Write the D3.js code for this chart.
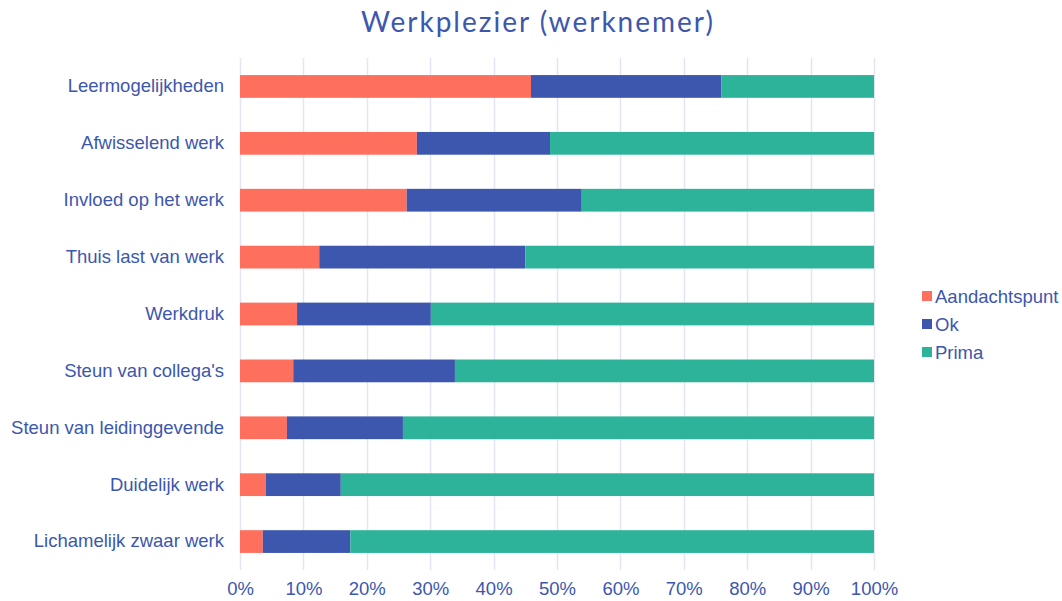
<!DOCTYPE html>
<html>
<head>
<meta charset="utf-8">
<script src="https://cdn.jsdelivr.net/npm/d3@7"></script>
<style>
  body { margin: 0; background: #fff; }
  svg { display: block; }
</style>
</head>
<body>
<svg id="chart" width="1062" height="601"></svg>
<script>
// rows from top to bottom
var categories = ["Leermogelijkheden", "Afwisselend werk", "Invloed op het werk", "Thuis last van werk",
    "Werkdruk", "Steun van collega's", "Steun van leidinggevende", "Duidelijk werk", "Lichamelijk zwaar werk"];
var seriesNames = ["Aandachtspunt", "Ok", "Prima"];
var aandachtspunt = [45.9, 27.9, 26.3, 12.5, 9.0, 8.4, 7.4, 4.1, 3.6];
var ok = [30.0, 21.0, 27.6, 32.5, 21.1, 25.5, 18.3, 11.8, 13.8];
var prima = [24.1, 51.1, 46.1, 55.0, 69.9, 66.1, 74.3, 84.1, 82.6];
var tickValues = [0, 10, 20, 30, 40, 50, 60, 70, 80, 90, 100];
var colors = ["#ff6f5e", "#3c57ad", "#2db39a"];

var svg = d3.select("#chart");
var margin = { left: 240, right: 188, top: 58, bottom: 31 };
var width = 1062 - margin.left - margin.right;
var height = 601 - margin.top - margin.bottom;
var textColor = "#3c57ad";
var labelFont = "Liberation Sans, Arial, sans-serif";
var labelSize = 18.5;

var rows = categories.map(function (c, i) {
    return { cat: c, Aandachtspunt: aandachtspunt[i], Ok: ok[i], Prima: prima[i] };
});
var stacked = d3.stack().keys(seriesNames)(rows);

var x = d3.scaleLinear().domain([0, 100]).range([margin.left, margin.left + width]);
var y = d3.scaleBand().domain(categories).range([margin.top, margin.top + height]).paddingInner(0.6).paddingOuter(0.3);

// grid
svg.append("g")
    .selectAll("line")
    .data(tickValues)
    .join("line")
    .attr("x1", function (d) { return Math.round(x(d)) + 0.5; })
    .attr("x2", function (d) { return Math.round(x(d)) + 0.5; })
    .attr("y1", margin.top)
    .attr("y2", margin.top + height)
    .attr("stroke", "#e3e5f2")
    .attr("stroke-width", 1.5);

// bars
svg.append("g")
    .selectAll("g")
    .data(stacked)
    .join("g")
    .attr("fill", function (d, i) { return colors[i]; })
    .selectAll("rect")
    .data(function (d) { return d; })
    .join("rect")
    .attr("x", function (d) { return x(d[0]); })
    .attr("width", function (d) { return x(d[1]) - x(d[0]); })
    .attr("y", function (d) { return y(d.data.cat); })
    .attr("height", y.bandwidth());

// x axis labels
var xAxis = d3.axisBottom(x).tickValues(tickValues).tickSize(0).tickPadding(12)
    .tickFormat(function (d) { return d + "%"; });
svg.append("g")
    .attr("transform", "translate(0," + (margin.top + height) + ")")
    .call(xAxis)
    .call(function (g) { g.select(".domain").remove(); })
    .selectAll("text")
    .attr("fill", textColor)
    .attr("font-family", labelFont)
    .attr("font-size", labelSize);

// y axis labels
var yAxis = d3.axisLeft(y).tickSize(0).tickPadding(16);
svg.append("g")
    .attr("transform", "translate(" + margin.left + ",0)")
    .call(yAxis)
    .call(function (g) { g.select(".domain").remove(); })
    .selectAll("text")
    .attr("fill", textColor)
    .attr("font-family", labelFont)
    .attr("font-size", labelSize);

// title
svg.append("text")
    .attr("x", 538)
    .attr("y", 32)
    .attr("text-anchor", "middle")
    .attr("fill", textColor)
    .attr("font-family", "Lato, 'Open Sans', sans-serif")
    .attr("font-size", 28)
    .attr("letter-spacing", 2)
    .text("Werkplezier (werknemer)");

// legend
var legend = svg.append("g").attr("transform", "translate(922,297)");
var item = legend.selectAll("g")
    .data(seriesNames)
    .join("g")
    .attr("transform", function (d, i) { return "translate(0," + i * 28 + ")"; });
item.append("rect")
    .attr("x", 0)
    .attr("y", -6)
    .attr("width", 10)
    .attr("height", 10)
    .attr("fill", function (d, i) { return colors[i]; });
item.append("text")
    .attr("x", 13)
    .attr("y", 6)
    .attr("fill", textColor)
    .attr("font-family", labelFont)
    .attr("font-size", labelSize)
    .text(function (d) { return d; });
</script>
</body>
</html>
